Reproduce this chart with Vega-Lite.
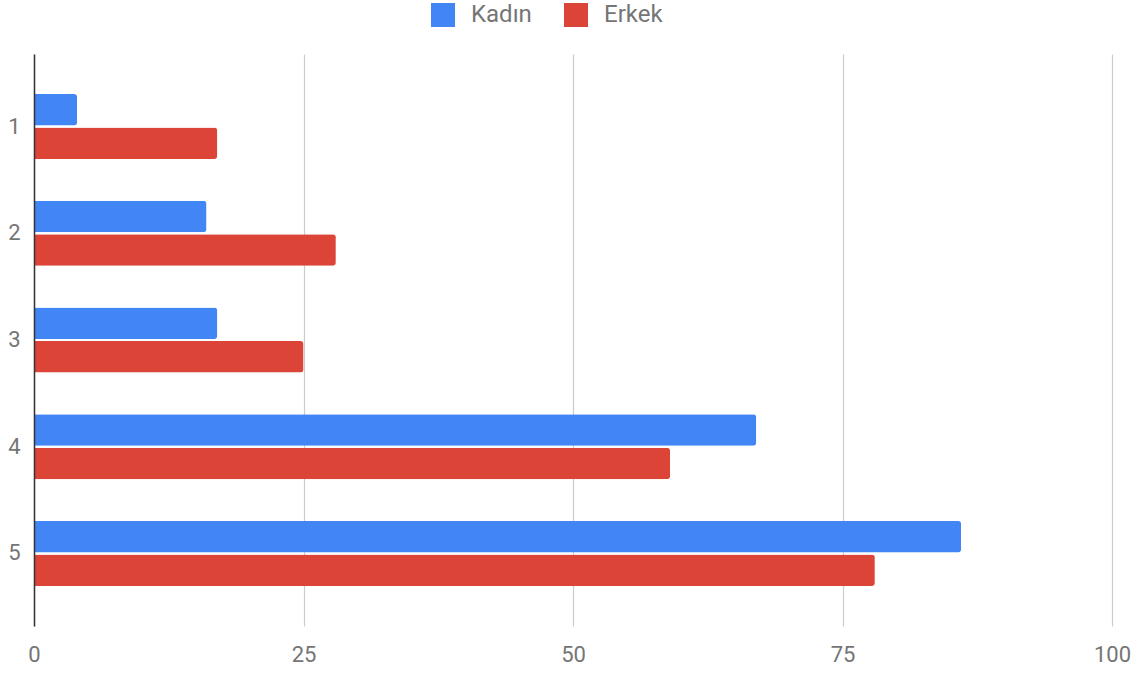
{
  "$schema": "https://vega.github.io/schema/vega-lite/v6.json",
  "width": 1078,
  "height": 572,
  "autosize": {"type": "none"},
  "padding": {"left": 34, "top": 54, "right": 34, "bottom": 47},
  "background": "white",
  "config": {
    "font": "Roboto",
    "view": {"stroke": null}
  },
  "data": {
    "values": [
      {"grup": "1", "cinsiyet": "Kadın", "deger": 4},
      {"grup": "1", "cinsiyet": "Erkek", "deger": 17},
      {"grup": "2", "cinsiyet": "Kadın", "deger": 16},
      {"grup": "2", "cinsiyet": "Erkek", "deger": 28},
      {"grup": "3", "cinsiyet": "Kadın", "deger": 17},
      {"grup": "3", "cinsiyet": "Erkek", "deger": 25},
      {"grup": "4", "cinsiyet": "Kadın", "deger": 67},
      {"grup": "4", "cinsiyet": "Erkek", "deger": 59},
      {"grup": "5", "cinsiyet": "Kadın", "deger": 86},
      {"grup": "5", "cinsiyet": "Erkek", "deger": 78}
    ]
  },
  "mark": {"type": "bar", "cornerRadiusEnd": 3},
  "encoding": {
    "y": {
      "field": "grup",
      "type": "nominal",
      "sort": ["1", "2", "3", "4", "5"],
      "scale": {"paddingInner": 0.39, "paddingOuter": 0.375},
      "axis": {
        "title": null,
        "ticks": false,
        "domainColor": "#333333",
        "domainWidth": 1.5,
        "labelColor": "#757575",
        "labelFontSize": 22,
        "labelPadding": 14,
        "zindex": 1
      }
    },
    "yOffset": {
      "field": "cinsiyet",
      "type": "nominal",
      "sort": ["Kadın", "Erkek"],
      "scale": {"paddingInner": 0.06}
    },
    "x": {
      "field": "deger",
      "type": "quantitative",
      "scale": {"domain": [0, 100], "nice": false},
      "axis": {
        "title": null,
        "values": [0, 25, 50, 75, 100],
        "domain": false,
        "ticks": false,
        "labelFlush": false,
        "gridColor": "#cccccc",
        "gridWidth": 1.2,
        "labelColor": "#757575",
        "labelFontSize": 22,
        "labelPadding": 18
      }
    },
    "color": {
      "field": "cinsiyet",
      "type": "nominal",
      "sort": ["Kadın", "Erkek"],
      "scale": {"domain": ["Kadın", "Erkek"], "range": ["#4285F4", "#DB4437"]},
      "legend": {
        "title": null,
        "orient": "none",
        "legendX": 397,
        "legendY": -51,
        "direction": "horizontal",
        "symbolType": "square",
        "symbolSize": 576,
        "symbolStrokeWidth": 0,
        "labelFontSize": 24,
        "labelColor": "#757575",
        "labelOffset": 16,
        "columnPadding": 32
      }
    }
  }
}
